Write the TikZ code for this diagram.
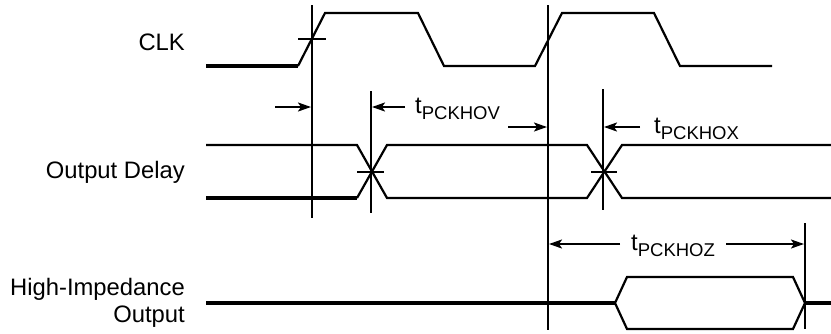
\documentclass[tikz,border=0pt]{standalone}
\usepackage{fontspec}
\setmainfont{Liberation Sans}
\usetikzlibrary{arrows.meta}
\newcommand\tlab[1]{t\raisebox{-6pt}{\fontsize{18.5}{20}\selectfont #1}}
\begin{document}
\begin{tikzpicture}[x=1pt,y=-1pt,
  sig/.style={line width=2.2pt},
  boldsig/.style={line width=3.1pt},
  guide/.style={line width=2pt},
  tick/.style={line width=2pt},
  dim/.style={line width=2pt,-{Stealth[length=13pt,width=9pt,inset=3pt]}},
  lab/.style={font=\fontsize{23.8}{27}\selectfont, anchor=east, align=right, inner sep=0pt},
  tname/.style={font=\fontsize{23.8}{27}\selectfont, anchor=base west, inner sep=0pt}]
\useasboundingbox (0,0) rectangle (831,333);

% signal labels
\node[lab] (clk) at (185,42) {CLK};
\node[lab] (od) at (185,172) {Output Delay};
\node[lab] (hz) at (185,303) {High-Impedance\\Output};

% CLK waveform
\draw[boldsig] (206,66) -- (298,66);
\draw[sig] (298,66) -- (325,13) -- (418,13) -- (444,66) -- (535,66) -- (562,13) -- (654,13) -- (680,66) -- (772,66);
\draw[tick] (298,39) -- (326,39);

% Output Delay waveform
\draw[sig] (206,145) -- (357,145) -- (387,198) -- (587,198) -- (622,145) -- (831,145);
\draw[boldsig] (206,198) -- (357,198);
\draw[sig] (357,198) -- (387,145) -- (587,145) -- (622,198) -- (831,198);
\draw[tick] (357,171.5) -- (384,171.5);
\draw[tick] (591,171.5) -- (617,171.5);

% High-Impedance waveform
\draw[boldsig] (206,303) -- (615,303);
\draw[sig] (615,303) -- (627,277) -- (793,277) -- (805,303) -- (793,329) -- (627,329) -- cycle;
\draw[boldsig] (805,303) -- (831,303);

% guide lines
\coordinate (g1t) at (312,5);   \coordinate (g1b) at (312,218);
\coordinate (g2t) at (548,5);   \coordinate (g2b) at (548,330);
\coordinate (g3t) at (371,91);  \coordinate (g3b) at (371,213);
\coordinate (g4t) at (603,89);  \coordinate (g4b) at (603,210);
\coordinate (g5t) at (805,223); \coordinate (g5b) at (805,329);
\draw[guide] (g1t) -- (g1b);
\draw[guide] (g2t) -- (g2b);
\draw[guide] (g3t) -- (g3b);
\draw[guide] (g4t) -- (g4b);
\draw[guide] (g5t) -- (g5b);

% dimension arrows
\coordinate (a1) at (275,107); \coordinate (a1e) at (311,107);
\coordinate (a2) at (405,107); \coordinate (a2e) at (372,107);
\coordinate (a3) at (508,127); \coordinate (a3e) at (547,127);
\coordinate (a4) at (640,127); \coordinate (a4e) at (604,127);
\coordinate (a5) at (620,244); \coordinate (a5e) at (549,244);
\coordinate (a6) at (726,244); \coordinate (a6e) at (804,244);
\draw[dim] (a1) -- (a1e);
\draw[dim] (a2) -- (a2e);
\draw[dim] (a3) -- (a3e);
\draw[dim] (a4) -- (a4e);
\draw[dim] (a5) -- (a5e);
\draw[dim] (a6) -- (a6e);

% timing labels
\node[tname] (hov) at (415,113) {\tlab{PCKHOV}};
\node[tname] (hox) at (654,133) {\tlab{PCKHOX}};
\node[tname] (hoz) at (631,250) {\tlab{PCKHOZ}};
\end{tikzpicture}
\end{document}
